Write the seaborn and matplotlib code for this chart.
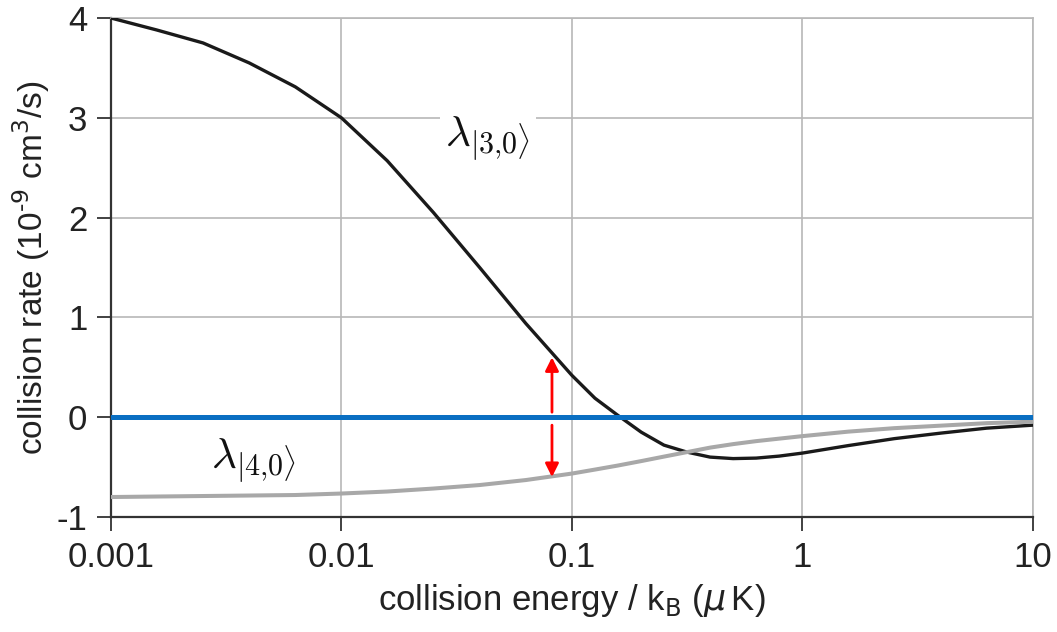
import numpy as np
import pandas as pd
import seaborn as sns
import matplotlib.pyplot as plt
from matplotlib.ticker import FixedLocator, FixedFormatter, NullLocator

# collision energy / kB (uK)
energy = [0.001, 0.00158, 0.00251, 0.00398, 0.00631, 0.01, 0.0158, 0.0251,
          0.0398, 0.0631, 0.1, 0.126, 0.158, 0.2, 0.251, 0.316, 0.398,
          0.501, 0.631, 0.794, 1.0, 1.58, 2.51, 3.98, 6.31, 10.0]
# lambda |3,0> (black)
rate_30 = [4.00, 3.88, 3.75, 3.55, 3.31, 3.00, 2.57, 2.05,
           1.50, 0.94, 0.42, 0.19, 0.02, -0.15, -0.28, -0.35, -0.40,
           -0.415, -0.41, -0.39, -0.36, -0.285, -0.215, -0.16, -0.11, -0.08]
# lambda |4,0> (grey)
rate_40 = [-0.80, -0.795, -0.79, -0.785, -0.78, -0.765, -0.745, -0.715,
           -0.68, -0.63, -0.565, -0.525, -0.485, -0.44, -0.395, -0.35, -0.305,
           -0.27, -0.24, -0.215, -0.19, -0.145, -0.11, -0.085, -0.06, -0.045]

xticks = [0.001, 0.01, 0.1, 1, 10]
xticklabels = ['0.001', '0.01', '0.1', '1', '10']
yticks = [-1, 0, 1, 2, 3, 4]

arrow_x = 0.082
arrow_up = (0.05, 0.6)
arrow_down = (-0.08, -0.6)

df = pd.DataFrame({'energy': energy, 'rate_30': rate_30, 'rate_40': rate_40})

sns.set_theme(style='whitegrid')
plt.rcParams['font.family'] = ['Liberation Sans', 'DejaVu Sans']
plt.rcParams['axes.unicode_minus'] = False

fig = plt.figure(figsize=(10.57, 6.32), dpi=100)
ax = fig.add_axes([0.105, 0.182, 0.872, 0.7895])

sns.lineplot(data=df, x='energy', y='rate_30', ax=ax, color='#1a1a1a', lw=2.4, zorder=3)
sns.lineplot(data=df, x='energy', y='rate_40', ax=ax, color='#a8a8a8', lw=2.9, zorder=4)
ax.axhline(0, color='#0a6fc2', lw=3.6, zorder=5)

ax.set_xscale('log')
ax.set_xlim(0.001, 10)
ax.set_ylim(-1, 4)
ax.xaxis.set_major_locator(FixedLocator(xticks))
ax.xaxis.set_major_formatter(FixedFormatter(xticklabels))
ax.xaxis.set_minor_locator(NullLocator())
ax.set_yticks(yticks)
ax.set_yticklabels([str(v) for v in yticks])

ax.grid(True, color='#b8b8b8', lw=1.2)
for s in ['top', 'right']:
    ax.spines[s].set_color('#b8b8b8')
    ax.spines[s].set_linewidth(1.2)
for s in ['left', 'bottom']:
    ax.spines[s].set_color('#333333')
    ax.spines[s].set_linewidth(1.6)
ax.tick_params(axis='both', which='major', direction='out', length=10, width=1.3,
               color='#333333', labelsize=25, labelcolor='#222222', pad=7,
               left=True, bottom=True)

ax.set_xlabel(r'collision energy / k$_\mathrm{B}$ ($\mu\,$K)', fontsize=25, color='#222222', labelpad=6)
ax.set_ylabel(r'collision rate (10$^{\text{-9}}$ cm$^3$/s)', fontsize=24, color='#222222', labelpad=3)

ax.annotate('', xy=(arrow_x, arrow_up[1]), xytext=(arrow_x, arrow_up[0]),
            arrowprops=dict(arrowstyle='-|>', color='red', lw=2, mutation_scale=20,
                            shrinkA=0, shrinkB=0), zorder=6)
ax.annotate('', xy=(arrow_x, arrow_down[1]), xytext=(arrow_x, arrow_down[0]),
            arrowprops=dict(arrowstyle='-|>', color='red', lw=2, mutation_scale=20,
                            shrinkA=0, shrinkB=0), zorder=6)

ax.text(0.0432, 2.8, r'$\lambda_{|3{,}0\rangle}$', fontsize=31, math_fontfamily='cm',
        ha='center', va='center', color='#111111', zorder=7,
        bbox=dict(facecolor='white', edgecolor='none', pad=4))
ax.text(0.00417, -0.43, r'$\lambda_{|4{,}0\rangle}$', fontsize=31, math_fontfamily='cm',
        ha='center', va='center', color='#111111', zorder=7)

fig.savefig('out.png', dpi=100)
